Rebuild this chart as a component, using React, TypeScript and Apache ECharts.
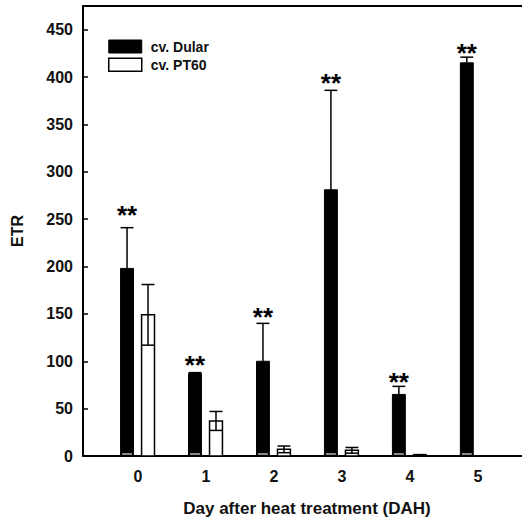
import React, { useEffect, useRef } from "react";
import * as echarts from "echarts";

const days = [0, 1, 2, 3, 4, 5];
const dularMean = [198, 87, 100, 281, 65, 415];
const dularErr = [43, 1, 40, 105, 8.5, 6];
const pt60Mean = [149, 37, 7, 6, 1, 0];
const pt60Err = [32, 10, 3.5, 3, 0.5, 0];
const sigText = ["**", "**", "**", "**", "**", "**"];
const sigY = [261, 102, 153, 400, 84, 432];
const yTicks = [0, 50, 100, 150, 200, 250, 300, 350, 400, 450];

const FONT = "'Liberation Sans', Arial, sans-serif";

export default function App() {
  const ref = useRef<HTMLDivElement>(null);
  useEffect(() => {
    if (!ref.current) return;
    const chart = echarts.init(ref.current, null, { renderer: "svg" });
    const barW = 0.19;
    const offD = -0.162;
    const offP = 0.147;

    const makeRender = (isDular: boolean) => (params: any, api: any) => {
      const x = api.value(0);
      const m = api.value(1);
      const e = api.value(2);
      const off = isDular ? offD : offP;
      const w = api.size([barW, 0])[0];
      const [cx, yTop] = api.coord([x + off, m]);
      const [, y0] = api.coord([x + off, 0]);
      const [, yE] = api.coord([x + off, m + e]);
      const [, yEl] = api.coord([x + off, Math.max(0, m - e)]);
      const capW = w;
      const children: any[] = [];
      if (m <= 0) return { type: "group", children };
      if (isDular) {
        children.push({
          type: "rect",
          shape: { x: cx - w / 2, y: yTop, width: w, height: y0 - yTop },
          style: { fill: "#000", stroke: "#000", lineWidth: 1 },
        });
        children.push({
          type: "rect",
          shape: { x: cx - w / 2 + 1.5, y: y0 - 3, width: w - 3, height: 2 },
          style: { fill: "#888" },
        });
      } else {
        children.push({
          type: "rect",
          shape: { x: cx - w / 2, y: yTop, width: w, height: Math.max(y0 - yTop, 0.5) },
          style: { fill: "#fff", stroke: "#000", lineWidth: 1.5 },
        });
        if (e > 0) {
          children.push({
            type: "line",
            shape: { x1: cx, y1: yTop, x2: cx, y2: yEl },
            style: { stroke: "#000", lineWidth: 1.5 },
          });
          children.push({
            type: "line",
            shape: { x1: cx - capW / 2, y1: yEl, x2: cx + capW / 2, y2: yEl },
            style: { stroke: "#000", lineWidth: 1.5 },
          });
        }
      }
      if (e > 0) {
        children.push({
          type: "line",
          shape: { x1: cx, y1: yTop, x2: cx, y2: yE },
          style: { stroke: "#000", lineWidth: 1.5 },
        });
        children.push({
          type: "line",
          shape: { x1: cx - capW / 2, y1: yE, x2: cx + capW / 2, y2: yE },
          style: { stroke: "#000", lineWidth: 1.5 },
        });
      }
      if (isDular) {
        const s = api.value(3);
        const [, yS] = api.coord([x + off, s]);
        children.push({
          type: "text",
          x: cx,
          y: yS + 6,
          style: {
            text: sigText[params.dataIndex],
            fill: "#000",
            fontSize: 26,
            fontWeight: "bold",
            fontFamily: FONT,
            align: "center",
            verticalAlign: "middle",
          },
        });
      }
      return { type: "group", children };
    };

    const xMin = -0.81;
    const xMax = 5.65;

    chart.setOption({
      animation: false,
      textStyle: { fontFamily: FONT },
      grid: { left: 83, right: 0, top: 6, bottom: 68 },
      legend: {
        orient: "vertical",
        left: 108,
        top: 39.5,
        padding: 0,
        icon: "rect",
        itemWidth: 33,
        itemHeight: 13,
        itemGap: 4,
        textStyle: { fontSize: 14, fontWeight: "bold", color: "#111", fontFamily: FONT, padding: [0, 0, 0, 4] },
        data: [
          { name: "cv. Dular", itemStyle: { color: "#000", borderColor: "#000", borderWidth: 1 } },
          { name: "cv. PT60", itemStyle: { color: "#fff", borderColor: "#000", borderWidth: 1.5 } },
        ],
      },
      xAxis: [
        {
          type: "value",
          min: xMin,
          max: xMax,
          position: "bottom",
          name: "Day after heat treatment (DAH)",
          nameLocation: "middle",
          nameGap: 44,
          nameTextStyle: { fontSize: 17, fontWeight: "bold", color: "#111", fontFamily: FONT, padding: [0, 0, 0, 9] },
          axisLine: { show: true, onZero: false, lineStyle: { color: "#000", width: 2 } },
          axisTick: { show: false },
          splitLine: { show: false },
          axisLabel: {
            customValues: days,
            fontSize: 16,
            fontWeight: "bold",
            color: "#111",
            fontFamily: FONT,
            margin: 12,
            formatter: (v: number) => String(v),
          },
        },
        {
          type: "value",
          min: xMin,
          max: xMax,
          position: "top",
          axisLine: { show: true, onZero: false, lineStyle: { color: "#000", width: 2 } },
          axisTick: { show: false },
          axisLabel: { show: false },
          splitLine: { show: false },
        },
      ],
      yAxis: {
        type: "value",
        min: 0,
        max: 475,
        interval: 50,
        name: "ETR",
        nameLocation: "middle",
        nameGap: 58,
        nameTextStyle: { fontSize: 16, fontWeight: "bold", color: "#111", fontFamily: FONT },
        axisLine: { show: true, onZero: false, lineStyle: { color: "#000", width: 2 } },
        axisTick: { show: true, inside: true, length: 5, lineStyle: { color: "#000", width: 1.5 } },
        splitLine: { show: false },
        axisLabel: {
          showMaxLabel: false,
          fontSize: 16,
          fontWeight: "bold",
          color: "#111",
          fontFamily: FONT,
          margin: 10,
          formatter: (v: number) => (yTicks.includes(v) ? String(v) : ""),
        },
      },
      series: [
        {
          name: "cv. Dular",
          type: "custom",
          xAxisIndex: 0,
          clip: false,
          itemStyle: { color: "#000", borderColor: "#000" },
          encode: { x: 0, y: 1 },
          data: days.map((d, i) => [d, dularMean[i], dularErr[i], sigY[i]]),
          renderItem: makeRender(true),
        },
        {
          name: "cv. PT60",
          type: "custom",
          xAxisIndex: 0,
          clip: false,
          itemStyle: { color: "#fff", borderColor: "#000" },
          encode: { x: 0, y: 1 },
          data: days.map((d, i) => [d, pt60Mean[i], pt60Err[i]]),
          renderItem: makeRender(false),
        },
      ],
    });
    return () => chart.dispose();
  }, []);
  return <div ref={ref} style={{ position: "absolute", left: 0, top: 0, width: 522, height: 524 }} />;
}
